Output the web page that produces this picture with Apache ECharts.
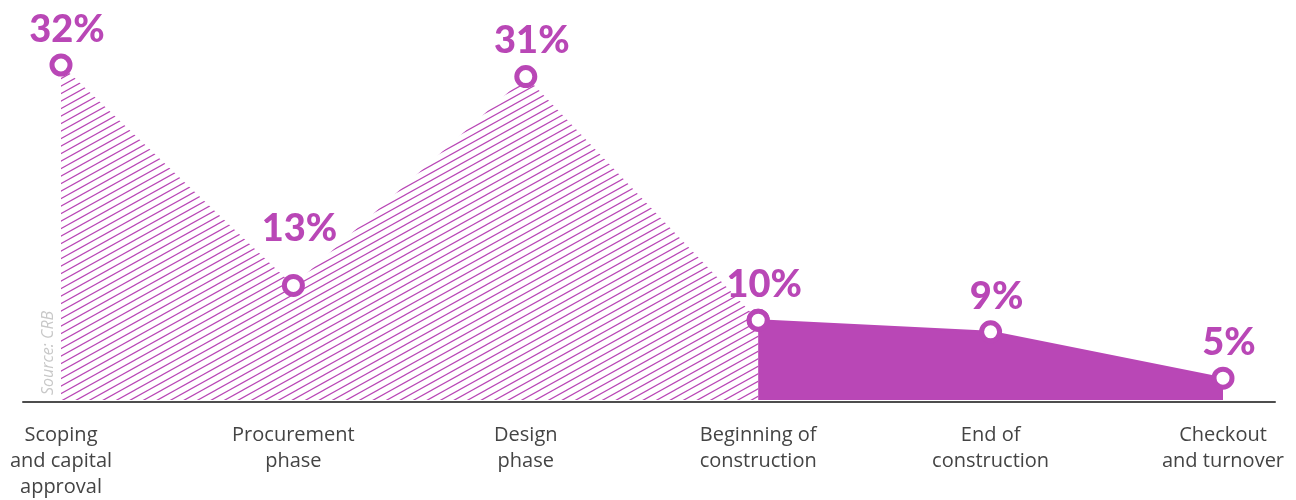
<!DOCTYPE html>
<html>
<head>
<meta charset="utf-8">
<script src="https://cdn.jsdelivr.net/npm/echarts@6/dist/echarts.min.js"></script>
<style>
html,body{margin:0;padding:0;background:#fff;}
#chart{width:1296px;height:500px;}
</style>
</head>
<body>
<div id="chart"></div>
<script>
const categories = ['Scoping\nand capital\napproval', 'Procurement\nphase', 'Design\nphase', 'Beginning of\nconstruction', 'End of\nconstruction', 'Checkout\nand turnover'];
const planningValues = [32, 13, 31, 10, null, null];
const constructionValues = [null, null, null, 10, 9, 5];
const sourceNote = 'Source: CRB';

const PURPLE = '#b947b6';

function hatchPattern() {
  const w = 27, h = 15, gap = 7.5;
  const c = document.createElement('canvas');
  c.width = w; c.height = h;
  const ctx = c.getContext('2d');
  ctx.strokeStyle = PURPLE;
  ctx.lineWidth = 1.2;
  const slope = h / w;
  for (let k = -2; k <= 3; k++) {
    ctx.beginPath();
    ctx.moveTo(-3, h + k * gap + 3 * slope);
    ctx.lineTo(w + 3, h + k * gap - (w + 3) * slope);
    ctx.stroke();
  }
  return c;
}

const labelBase = {
  show: true,
  position: 'top',
  distance: 5,
  offset: [6, 0],
  color: PURPLE,
  fontFamily: 'Lato',
  fontWeight: 900,
  fontSize: 38,
  lineHeight: 38,
  formatter: p => p.value + '%'
};

const planningData = planningValues.map((v, i) => {
  const item = { value: v };
  if (i === 3) item.label = { show: false };
  if (i === 1) item.label = { distance: 26 };
  return item;
});

const chart = echarts.init(document.getElementById('chart'), null, { renderer: 'canvas' });
chart.setOption({
  animation: false,
  grid: [
    { left: 61, right: 73, top: 65, bottom: 97 },
    { left: 23, right: 21, top: 65, bottom: 98 }
  ],
  xAxis: [
    {
      type: 'category', data: categories, boundaryGap: false, gridIndex: 0,
      axisLine: { show: false }, axisTick: { show: false },
      axisLabel: { interval: 0, color: '#444', fontFamily: 'Open Sans', fontSize: 20, lineHeight: 26, margin: 22 },
      splitLine: { show: false }
    },
    {
      type: 'value', gridIndex: 1, min: 0, max: 1, z: 10,
      axisLine: { show: true, lineStyle: { color: '#4d4d4d', width: 2 } },
      axisTick: { show: false }, axisLabel: { show: false }, splitLine: { show: false }
    }
  ],
  yAxis: [
    { type: 'value', gridIndex: 0, min: 3.12, max: 32, show: false, splitLine: { show: false } },
    { type: 'value', gridIndex: 1, min: 0, max: 1, show: false, splitLine: { show: false } }
  ],
  series: [
    {
      type: 'line', xAxisIndex: 0, yAxisIndex: 0,
      data: planningData,
      symbol: 'circle', symbolSize: 18,
      itemStyle: { color: '#fff', borderColor: PURPLE, borderWidth: 5 },
      lineStyle: { width: 0, opacity: 0 },
      areaStyle: { color: { image: hatchPattern(), repeat: 'repeat' }, opacity: 1 },
      label: labelBase,
      z: 2
    },
    {
      type: 'line', xAxisIndex: 0, yAxisIndex: 0,
      data: constructionValues,
      symbol: 'circle', symbolSize: 18,
      itemStyle: { color: '#fff', borderColor: PURPLE, borderWidth: 5 },
      lineStyle: { width: 2, color: PURPLE },
      areaStyle: { color: PURPLE, opacity: 1 },
      label: labelBase,
      z: 3
    }
  ],
  graphic: [
    {
      type: 'text', x: 48, y: 395, rotation: Math.PI / 2,
      style: { text: sourceNote, fill: '#c8c8c8', font: 'italic 16px "Open Sans"', align: 'left', verticalAlign: 'middle' }
    }
  ]
});
</script>
</body>
</html>
